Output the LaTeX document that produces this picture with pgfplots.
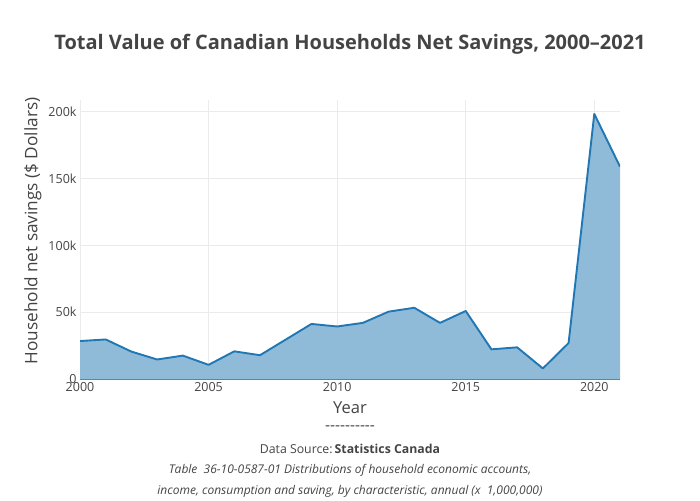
\documentclass[border=0pt]{standalone}
\usepackage{fontspec}
\setmainfont{Open Sans}
\usepackage{pgfplots}
\pgfplotsset{compat=1.18}
\definecolor{plotblue}{HTML}{1F77B4}
\definecolor{fillblue}{HTML}{8FBBD9}
\definecolor{txt}{HTML}{444444}
\definecolor{gridc}{HTML}{EBEBEB}
\newcommand{\px}[1]{\fontsize{#1}{#1}\selectfont}

\begin{document}
\begin{tikzpicture}[x=1pt,y=1pt]
\useasboundingbox (0,0) rectangle (700,500);
\begin{axis}[
  at={(80pt,121pt)}, anchor=south west,
  scale only axis, width=540pt, height=279pt,
  xmin=2000, xmax=2021, ymin=0, ymax=208800,
  xtick={2000,2005,...,2020},
  ytick={0,50000,100000,150000,200000},
  yticklabels={0,50k,100k,150k,200k},
  scaled y ticks=false,
  xticklabel style={/pgf/number format/1000 sep={}},
  ticklabel style={font=\px{12.5}, text=txt},
  major tick length=0pt,
  grid=major, major grid style={draw=gridc, line width=0.8pt},
  axis line style={draw=none},
  x axis line style={draw=txt!70, line width=1.2pt},
  axis x line*=bottom,
  /pgf/number format/assume math mode=true,
  clip=true,
]
  % fill under the curve, then the line on top
  \addplot[draw=none, fill=fillblue] coordinates {
    (2000,28400) (2001,29600) (2002,20500) (2003,14600) (2004,17500)
    (2005,10600) (2006,20700) (2007,17800) (2008,29500) (2009,41200)
    (2010,39300) (2011,42000) (2012,50400) (2013,53300) (2014,42000)
    (2015,50900) (2016,22200) (2017,23700) (2018,7900) (2019,26900)
    (2020,198400) (2021,158900)
  } \closedcycle;
  \addplot[draw=plotblue, line width=1.9pt, line join=round, mark=none] coordinates {
    (2000,28400) (2001,29600) (2002,20500) (2003,14600) (2004,17500)
    (2005,10600) (2006,20700) (2007,17800) (2008,29500) (2009,41200)
    (2010,39300) (2011,42000) (2012,50400) (2013,53300) (2014,42000)
    (2015,50900) (2016,22200) (2017,23700) (2018,7900) (2019,26900)
    (2020,198400) (2021,158900)
  };
\end{axis}
\node[text=txt, font=\px{20}\bfseries] at (350,456) {Total Value of Canadian Households Net Savings, 2000--2021};
\node[text=txt, font=\px{17.2}, rotate=90] at (33,269) {Household net savings (\$ Dollars)};
\node[text=txt, font=\px{16.5}] at (350,92) {Year};
\node[text=txt, font=\px{15.5}] at (350,72) {-{}-{}-{}-{}-{}-{}-{}-{}-{}-};
\node[text=txt, font=\px{12.3}] at (350,51) {Data Source:\,\textbf{Statistics Canada}};
\node[text=txt, font=\px{12}\itshape] at (350,30) {Table\ \ 36-10-0587-01 Distributions of household economic accounts,};
\node[text=txt, font=\px{12}\itshape] at (350,9) {income, consumption and saving, by characteristic, annual (x\ \ 1,000,000)};
\end{tikzpicture}
\end{document}
